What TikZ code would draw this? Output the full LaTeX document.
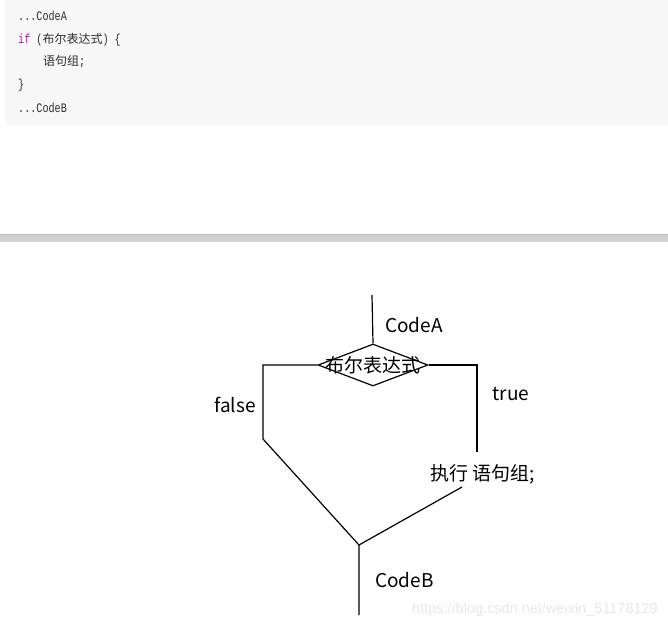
\documentclass[tikz,border=0pt]{standalone}
\usepackage{fontspec}
\setmainfont{Noto Sans CJK SC}
\newfontfamily\codefont[FakeStretch=0.78]{Liberation Mono}
\newfontfamily\markfont{Liberation Sans}
\newcommand{\mono}[1]{{\codefont\fontsize{13}{15}\selectfont #1}}
\usetikzlibrary{shapes.geometric}
\definecolor{codebg}{HTML}{F7F7F8}
\definecolor{codetext}{HTML}{2E2E33}
\definecolor{keyword}{HTML}{9A2A9E}
\definecolor{barcol}{HTML}{D2D2D2}
\definecolor{markcol}{HTML}{E6E6E6}
\begin{document}
\begin{tikzpicture}[x=1pt, y=-1pt,
  every node/.style={font=\fontsize{19}{22}\selectfont, inner sep=0pt},
  code/.style={font=\fontsize{12}{14}\selectfont, text=codetext, anchor=west},
  flow/.style={line width=1.2pt},
  decision/.style={diamond, draw, line width=1.2pt, minimum width=110pt, minimum height=42pt, inner sep=0pt}]
\useasboundingbox (0,0) rectangle (668,629);
% Code block
\fill[codebg] (5,0) rectangle (668,125);
\node[code] (codeA) at (18,16) {\mono{...CodeA}};
\node[code] (codeIf) at (18,40) {\mono{\textcolor{keyword}{if} (}布尔表达式\mono{) \{}};
\node[code] (codeBody) at (43,62) {语句组\mono{;}};
\node[code] (codeClose) at (18,85) {\mono{\}}};
\node[code] (codeB) at (18,108) {\mono{...CodeB}};
% Divider
\fill[barcol] (0,234) rectangle (668,242);
\draw[gray!55, line width=0.6pt] (0,234.3) -- (668,234.3);
% Flow chart
\coordinate (start) at (372,295);
\node[decision] (cond) at (373,365) {};
\node (condtext) at (cond.center) {布尔表达式};
\node[anchor=west] (labelA) at (385,325) {CodeA};
\coordinate (lturn) at (263,365);
\coordinate (ldown) at (263,439);
\coordinate (rturn) at (477,365);
\coordinate (rdown) at (477,452);
\coordinate (join) at (359,545);
\coordinate (end) at (359,615);
\node (falselab) at (235,405) {false};
\node (truelab) at (511,394) {true};
\node (exec) at (483,474) {执行 语句组;};
\coordinate (execin) at (462,487);
\node[anchor=west] (labelB) at (375,580) {CodeB};
\draw[flow] (start) -- (cond.north);
\draw[flow] (cond.west) -- (lturn) -- (ldown) -- (join);
\draw[flow] (cond.east) -- (rturn) -- (rdown);
\draw[flow] (execin) -- (join) -- (end);
% Watermark
\node[font=\markfont\fontsize{14.5}{16}\selectfont, text=markcol, anchor=east] (mark) at (658,610) {https://blog.csdn.net/weixin\_51178129};
\end{tikzpicture}
\end{document}
